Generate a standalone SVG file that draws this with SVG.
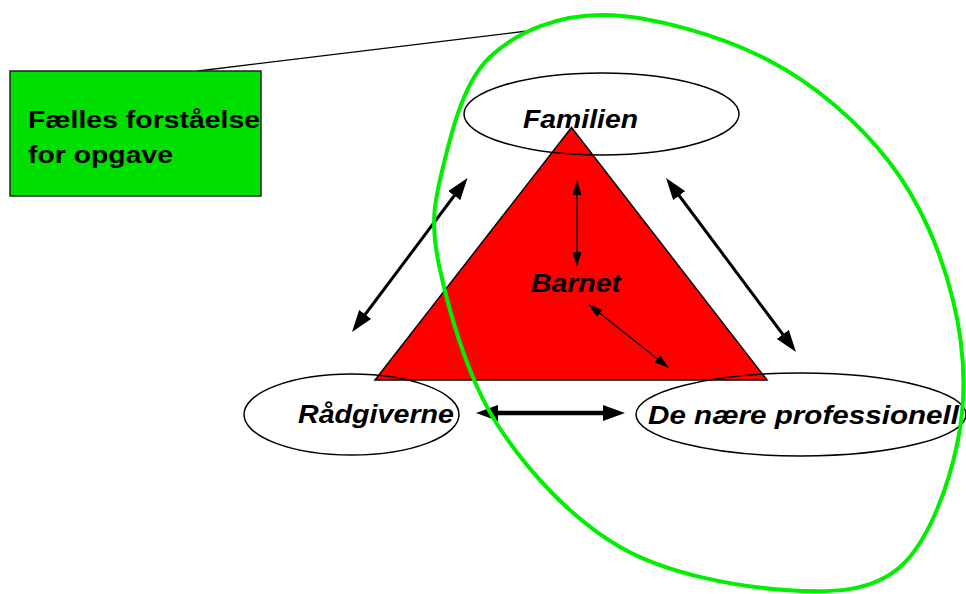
<svg xmlns="http://www.w3.org/2000/svg" width="966" height="594" viewBox="0 0 966 594">
<style>
.lbl{font-family:"Liberation Sans",Arial,sans-serif;font-weight:bold;font-style:italic;font-size:25.5px;fill:#000}
.note{font-family:"Liberation Sans",Arial,sans-serif;font-weight:bold;font-size:24.6px;fill:#000}
.node{fill:none;stroke:#000;stroke-width:1.5}
.big{stroke:#000;stroke-width:3;fill:none;marker-start:url(#hb);marker-end:url(#hb)}
.thick{stroke:#000;stroke-width:4.5;fill:none;marker-start:url(#ht);marker-end:url(#ht)}
.small{stroke:#000;stroke-width:1.3;fill:none;marker-start:url(#hs);marker-end:url(#hs)}
</style>
<defs>
<marker id="hb" markerUnits="userSpaceOnUse" markerWidth="22" markerHeight="15" refX="12" refY="7.5" orient="auto-start-reverse" viewBox="0 0 22 15"><path d="M0,0 L22,7.5 L0,15 z" fill="#000"/></marker>
<marker id="ht" markerUnits="userSpaceOnUse" markerWidth="22" markerHeight="16" refX="12" refY="8" orient="auto-start-reverse" viewBox="0 0 22 16"><path d="M0,0 L22,8 L0,16 z" fill="#000"/></marker>
<marker id="hs" markerUnits="userSpaceOnUse" markerWidth="15" markerHeight="9" refX="10" refY="4.5" orient="auto-start-reverse" viewBox="0 0 15 9"><path d="M0,0 L15,4.5 L0,9 z" fill="#000"/></marker>
</defs>
<rect width="966" height="594" fill="#fff"/>
<g id="barnet">
<polygon points="571.5,127.5 375,380 767,380" fill="#ff0000" stroke="#000" stroke-width="1.5"/>
<text class="lbl" x="531" y="292" textLength="90" lengthAdjust="spacingAndGlyphs">Barnet</text>
</g>
<g id="familien">
<ellipse class="node" cx="601.5" cy="114" rx="137.5" ry="41"/>
<text class="lbl" x="523" y="128" textLength="115" lengthAdjust="spacingAndGlyphs">Familien</text>
</g>
<g id="raadgiverne">
<ellipse class="node" cx="351.5" cy="414.5" rx="107.5" ry="40.5"/>
<text class="lbl" x="298" y="423" textLength="156" lengthAdjust="spacingAndGlyphs">Rådgiverne</text>
</g>
<g id="professionelle">
<ellipse class="node" cx="801" cy="414.5" rx="165" ry="41.5"/>
<text class="lbl" x="648" y="424" textLength="311" lengthAdjust="spacingAndGlyphs">De nære professionell</text>
</g>
<g id="connectors">
<line class="big" x1="461.5" y1="186" x2="358" y2="324"/>
<line class="big" x1="672" y1="186" x2="790" y2="344"/>
<line class="thick" x1="486" y1="413" x2="615" y2="413"/>
<line class="small" x1="577" y1="185" x2="577" y2="262"/>
<line class="small" x1="592" y1="307.1" x2="665.1" y2="364.9"/>
<line x1="198" y1="71" x2="527" y2="31" stroke="#000" stroke-width="1.3"/>
</g>
<g id="scope">
<path d="M604,15 C650.3,15.5 720.3,35.3 768,60 C815.7,84.7 859.2,123 890,163 C920.8,203 941.7,253.8 953,300 C964.3,346.2 966.8,395.5 958,440 C949.2,484.5 928.8,542 900,567 C871.2,592 831.7,593.3 785,590 C738.3,586.7 668,574.7 620,547 C572,519.3 527.2,471 497,424 C466.8,377 448,307.8 439,265 C430,222.2 434.5,201.7 443,167 C451.5,132.3 463.2,82.3 490,57 C516.8,31.7 557.7,14.5 604,15 Z" fill="none" stroke="#00ee00" stroke-width="4"/>
</g>
<g id="note">
<rect x="10" y="71" width="251" height="125" fill="#00e000" stroke="#222" stroke-width="1.5"/>
<text class="note" x="28" y="128" textLength="232" lengthAdjust="spacingAndGlyphs">Fælles forståelse</text>
<text class="note" x="28" y="163" textLength="145" lengthAdjust="spacingAndGlyphs">for opgave</text>
</g>
</svg>
